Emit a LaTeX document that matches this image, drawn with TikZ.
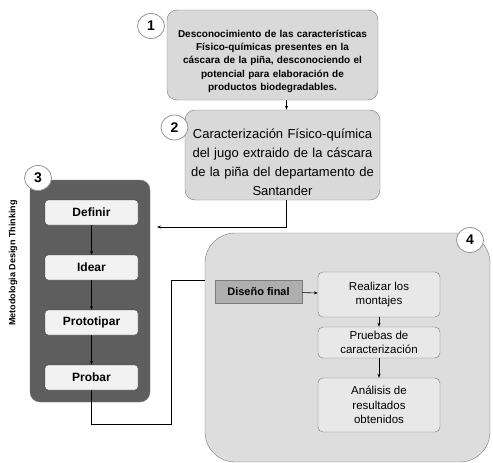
\documentclass[tikz,border=0pt]{standalone}
\usepackage{fontspec}
\setmainfont{Liberation Sans}
\usetikzlibrary{arrows.meta,positioning,shapes.geometric}

\definecolor{fasegris}{HTML}{D9D9D9}
\definecolor{faseosc}{HTML}{5E5E5E}
\definecolor{pasoclaro}{HTML}{F2F2F2}
\definecolor{borde}{HTML}{7A7A7A}

\begin{document}
\begin{tikzpicture}[
  x=1pt, y=-1pt,
  fase/.style={rectangle, rounded corners=10pt, draw=borde, fill=fasegris,
               align=center, inner sep=0pt},
  paso/.style={rectangle, rounded corners=3pt, draw=black!80, fill=pasoclaro,
               align=center, inner sep=0pt, minimum width=93pt, minimum height=25pt,
               font=\bfseries\fontsize{12}{14}\selectfont},
  act/.style={rectangle, rounded corners=5pt, draw=borde, fill=pasoclaro!60!fasegris,
              align=center, inner sep=0pt, minimum width=122pt,
              font=\fontsize{11.5}{14.5}\selectfont},
  num/.style={ellipse, draw=borde!80, thick, fill=white, minimum width=27pt,
              minimum height=25pt, inner sep=0pt, font=\bfseries\fontsize{14}{14}\selectfont},
  a/.style={-{Stealth[length=4pt, width=3pt]}, semithick},
  l/.style={semithick}
]
\useasboundingbox (0,0) rectangle (493,463);

% ---------------- fases 1 y 2 ----------------
\node[fase, minimum width=211pt, minimum height=90pt,
      font=\bfseries\fontsize{10}{13.3}\selectfont, text width=205pt] (f1) at (272.5,55)
  {\rule{0pt}{20pt}Desconocimiento de las características\\ Físico-químicas presentes en la\\
   cáscara de la piña, desconociendo el\\ potencial para elaboración de\\
   productos biodegradables.};
\node[fase, minimum width=195pt, minimum height=90pt,
      font=\fontsize{13}{19}\selectfont, text width=192pt] (f2) at (282.5,155)
  {\rule{0pt}{25pt}Caracterización Físico-química\\ del jugo extraido de la cáscara\\
   de la piña del departamento de\\ Santander};
\node[num] (n1) at (151,26) {1};
\node[num] (n2) at (174.5,127.5) {2};

% ---------------- fase 3 ----------------
\node[rectangle, rounded corners=10pt, draw=borde, fill=faseosc,
      minimum width=120pt, minimum height=222pt] (f3) at (90,291) {};
\node[num] (n3) at (38,178) {3};
\node[rotate=90, font=\bfseries\fontsize{9}{10}\selectfont] (meto) at (13,263)
  {Metodologia Design Thinking};
\node[paso] (definir) at (91.5,212.5) {Definir};
\node[paso] (idear) at (91.5,267.5) {Idear};
\node[paso] (prototipar) at (91.5,322.5) {Prototipar};
\node[paso] (probar) at (91.5,377.5) {Probar};

% ---------------- fase 4 ----------------
\node[rectangle, rounded corners=30pt, draw=borde, fill=fasegris!90!white,
      minimum width=285pt, minimum height=229pt] (f4) at (347.5,347.5) {};
\node[num] (n4) at (470,240) {4};
\node[rectangle, draw=borde, fill=fasegris!80!black, minimum width=87pt,
      minimum height=23pt, font=\bfseries\fontsize{11}{13}\selectfont] (final) at (258.5,291.5)
  {Diseño final};
\node[act, minimum height=45pt] (montajes) at (379,294.5) {Realizar los\\ montajes};
\node[act, minimum height=31pt] (pruebas) at (379,342.5) {Pruebas de\\ caracterización};
\node[act, minimum height=54pt] (analisis) at (379,405) {Análisis de\\ resultados\\ obtenidos};

% ---------------- conexiones ----------------
\coordinate (eje) at (286.5,0);
\coordinate (m3) at (157,227);
\coordinate (k4) at (171,424);
\coordinate (e4) at (205,280);
\draw[a] (f1.south -| eje) -- (f2.north -| eje);
\draw[a] (f2.south -| eje) |- (m3);
\draw[a] (definir) -- (idear);
\draw[a] (idear) -- (prototipar);
\draw[a] (prototipar) -- (probar);
\draw[l] (probar.south) |- (k4) |- (e4);
\draw[a] (final) -- (montajes);
\draw[a] (montajes) -- (pruebas);
\draw[a] (pruebas) -- (analisis);
\end{tikzpicture}
\end{document}
